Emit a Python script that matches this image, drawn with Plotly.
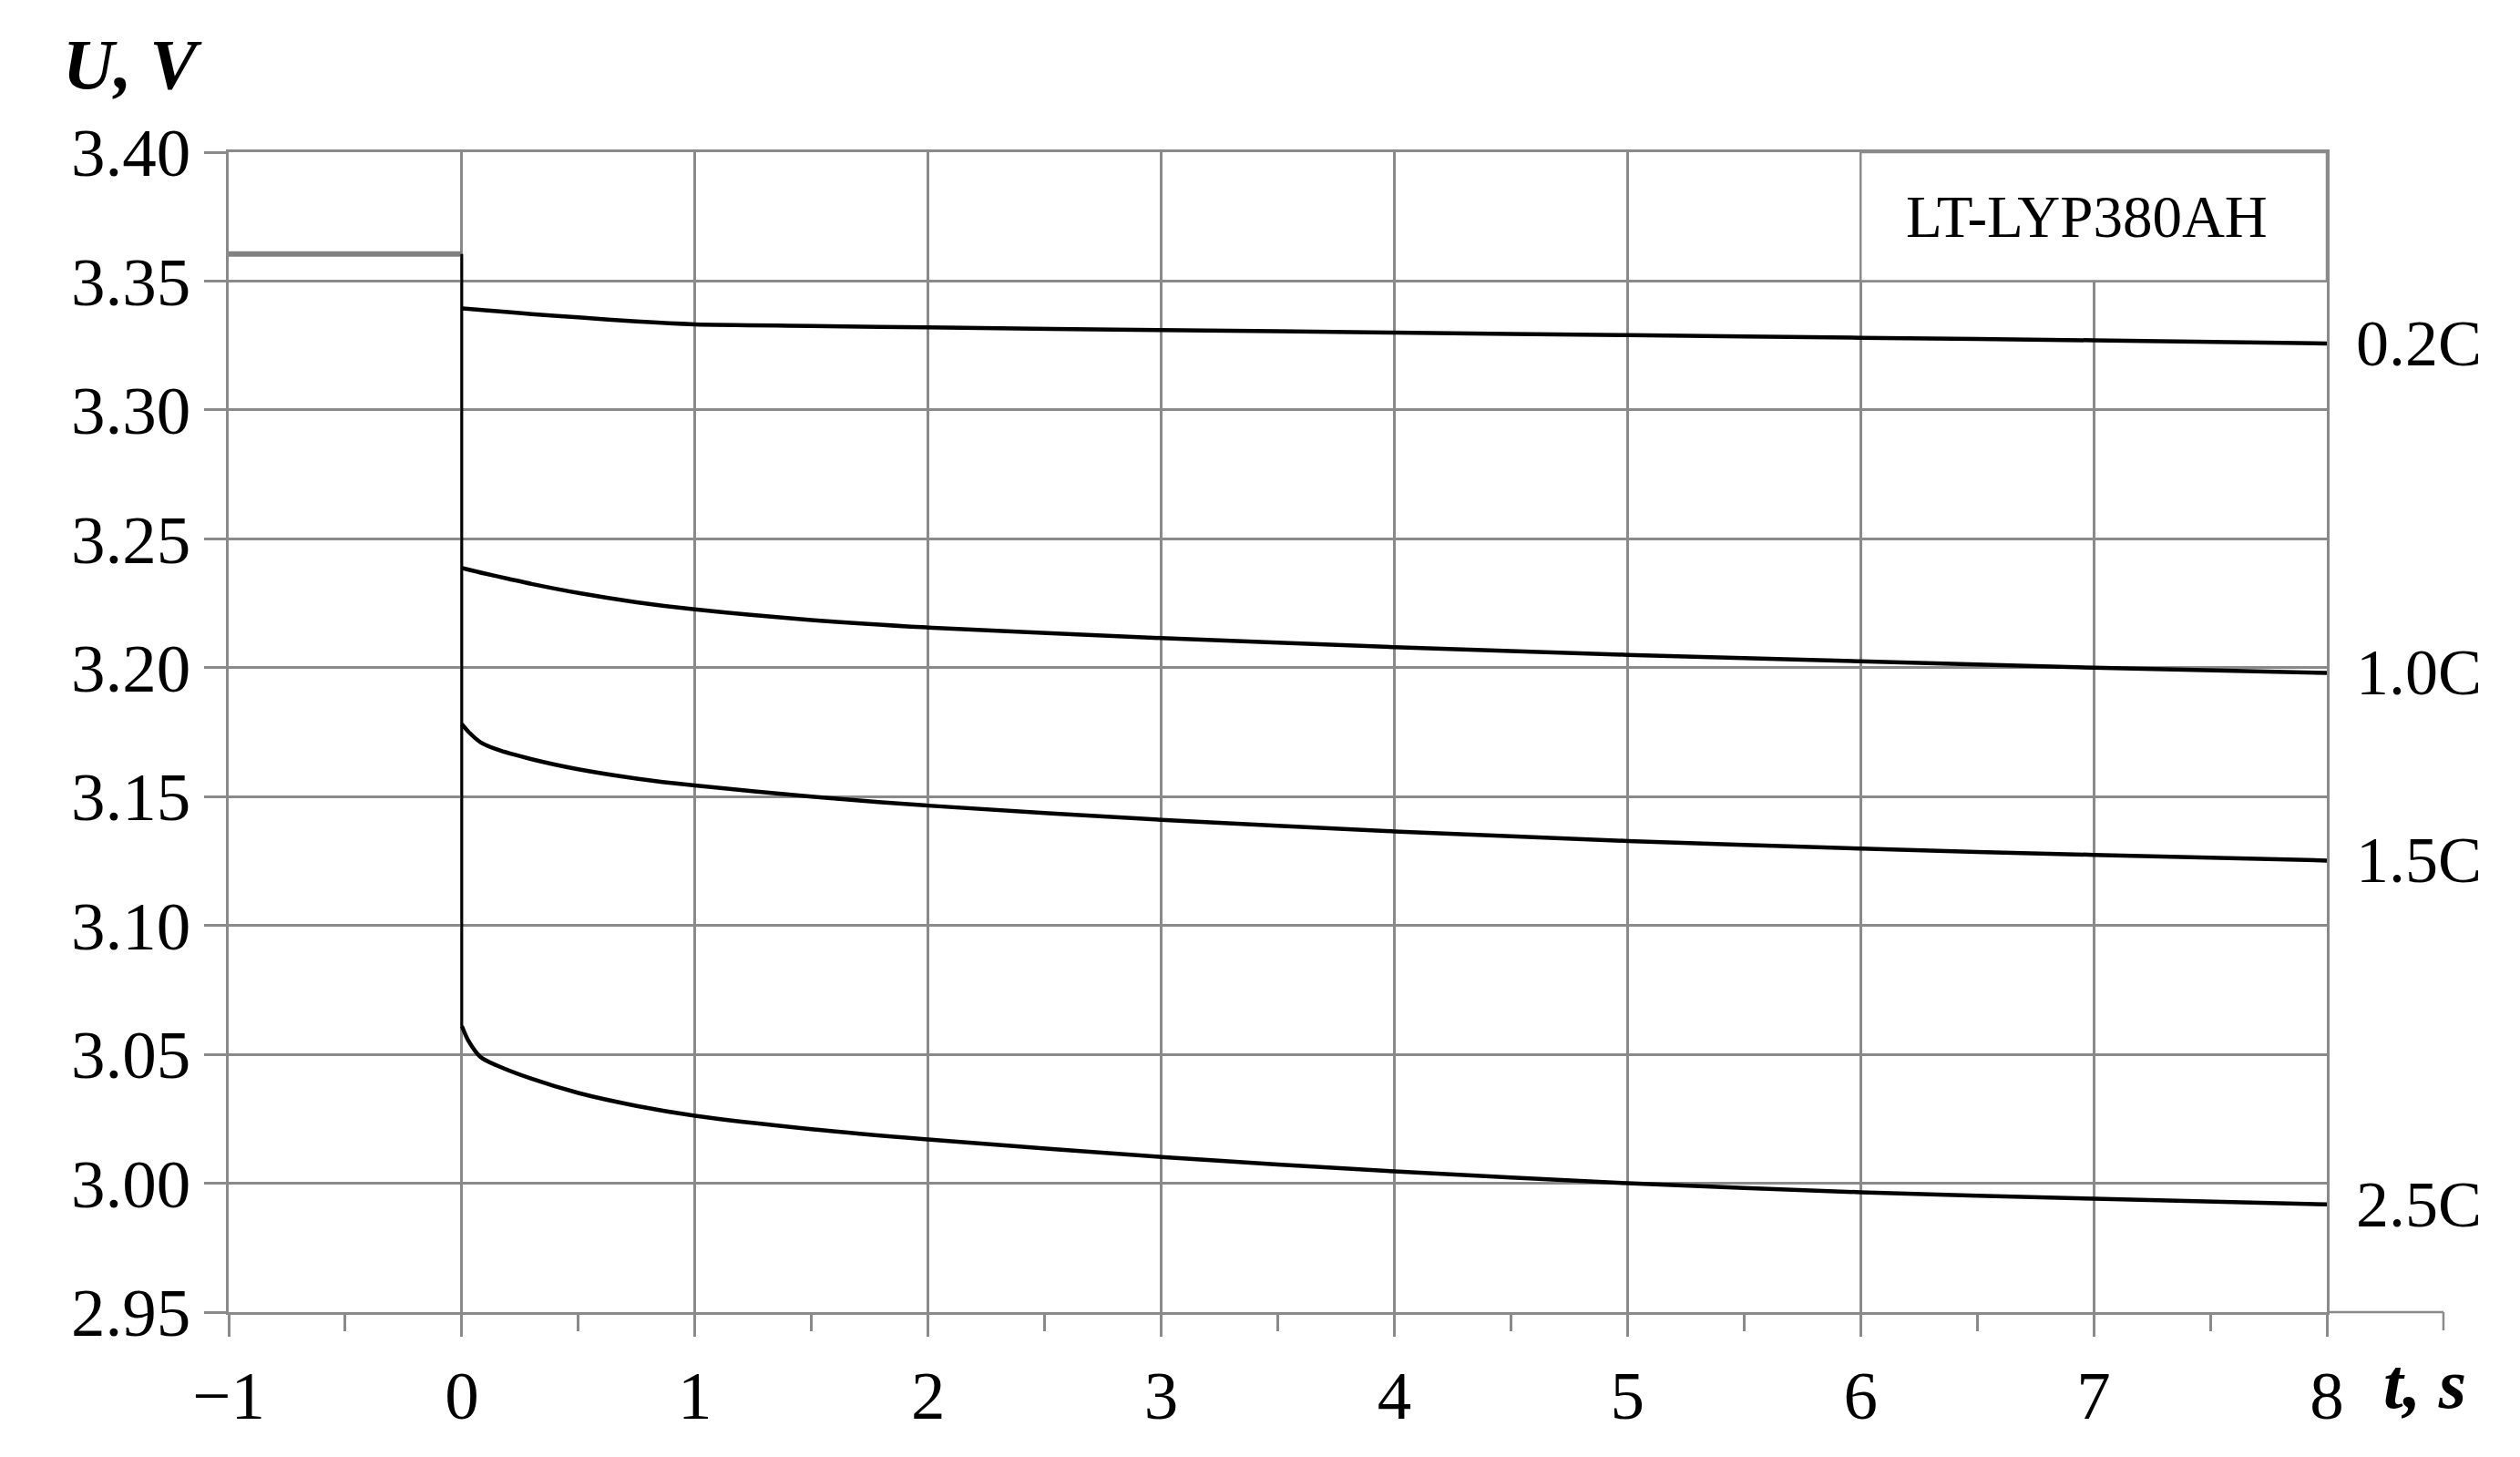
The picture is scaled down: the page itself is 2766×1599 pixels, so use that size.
import plotly.graph_objects as go

# time, s
t_pre = [-1, 0]
u_pre = [3.3605, 3.3605]

# voltage drop at the moment the load is switched on
t_drop = [0, 0]
u_drop = [3.3605, 3.0610]

t_02 = [0, 0.1, 0.2, 0.3, 0.5, 0.75, 1, 1.5, 2, 3, 4, 5, 6, 7, 8]
u_02 = [3.3394, 3.3387, 3.3380, 3.3372, 3.3359, 3.3343, 3.3332, 3.3326, 3.3320,
        3.3310, 3.3300, 3.3290, 3.3280, 3.3270, 3.3258]

t_10 = [0, 0.1, 0.2, 0.3, 0.5, 0.75, 1, 1.5, 2, 3, 4, 5, 6, 7, 8]
u_10 = [3.2387, 3.2365, 3.2345, 3.2325, 3.2290, 3.2254, 3.2226, 3.2185, 3.2156,
        3.2115, 3.2080, 3.2050, 3.2025, 3.2000, 3.1980]

t_15 = [0, 0.03, 0.08, 0.15, 0.3, 0.5, 0.75, 1, 1.5, 2, 3, 4, 5, 6, 7, 8]
u_15 = [3.1781, 3.1750, 3.1711, 3.1683, 3.1645, 3.1606, 3.1570, 3.1543, 3.1500,
        3.1465, 3.1410, 3.1365, 3.1328, 3.1298, 3.1274, 3.1252]

t_25 = [0, 0.03, 0.08, 0.15, 0.3, 0.5, 0.75, 1, 1.5, 2, 3, 4, 5, 6, 7, 8]
u_25 = [3.0610, 3.0550, 3.0490, 3.0457, 3.0405, 3.0350, 3.0300, 3.0262,
        3.0210, 3.0170, 3.0102, 3.0046, 3.0000, 2.9965, 2.9940, 2.9918]

curve_labels = ["0.2C", "1.0C", "1.5C", "2.5C"]
curves = [(t_02, u_02), (t_10, u_10), (t_15, u_15), (t_25, u_25)]

y_ticks = [2.95, 3.00, 3.05, 3.10, 3.15, 3.20, 3.25, 3.30, 3.35, 3.40]
x_ticks = [-1, 0, 1, 2, 3, 4, 5, 6, 7, 8]

FONT = "Liberation Serif"
GRID = "#8a8a8a"

fig = go.Figure()
fig.add_trace(go.Scatter(x=t_pre, y=u_pre, mode="lines",
                         line=dict(color="#808080", width=6), showlegend=False))
fig.add_trace(go.Scatter(x=t_drop, y=u_drop, mode="lines",
                         line=dict(color="black", width=3), showlegend=False))
for (tt, uu) in curves:
    fig.add_trace(go.Scatter(x=tt, y=uu, mode="lines",
                             line=dict(color="black", width=4.5, shape="spline",
                                       smoothing=0.8),
                             showlegend=False))

# labels at the right end of each curve
for name, (tt, uu) in zip(curve_labels, curves):
    fig.add_annotation(xref="paper", x=1, xshift=30, xanchor="left",
                       yref="y", y=uu[-1], yanchor="middle", text=name,
                       showarrow=False, font=dict(family=FONT, size=72, color="black"))

# boxed cell label
fig.add_shape(type="rect", x0=6, x1=8, y0=3.35, y1=3.40, xref="x", yref="y",
              fillcolor="white", line=dict(color=GRID, width=2.5), layer="above")
fig.add_annotation(x=7, y=3.375, text="LT-LYP380AH", showarrow=False, xshift=-8,
                   font=dict(family=FONT, size=65, color="black"))

# axis titles
fig.add_annotation(xref="paper", yref="paper", x=-0.08, y=1.076, xanchor="left",
                   yanchor="middle", text="<b><i>U, V</i></b>", showarrow=False,
                   font=dict(family=FONT, size=78, color="black"))
fig.add_annotation(xref="paper", yref="paper", x=1.026, y=-0.062, xanchor="left",
                   yanchor="middle", text="<b><i>t, s</i></b>", showarrow=False,
                   font=dict(family=FONT, size=78, color="black"))

# x axis line goes on past 8 to 8.5
fig.add_shape(type="line", xref="x domain", yref="y domain", x0=1, x1=9.5 / 9,
              y0=0, y1=0, line=dict(color=GRID, width=2.5))
fig.add_shape(type="line", xref="x domain", yref="y domain", x0=9.5 / 9, x1=9.5 / 9,
              y0=0, y1=-20 / 1273, line=dict(color=GRID, width=2.5))

fig.update_layout(
    width=2766, height=1599,
    margin=dict(l=243, r=220, t=159, b=167),
    plot_bgcolor="white", paper_bgcolor="white",
    font=dict(family=FONT, size=75, color="black"),
)
fig.update_xaxes(range=[-1, 8], tickvals=x_ticks, showgrid=True, gridcolor=GRID,
                 gridwidth=2.5, showline=True, linecolor=GRID, linewidth=2.5,
                 mirror=True, ticks="outside", ticklen=24, tickwidth=2.5,
                 tickcolor=GRID, zeroline=False,
                 minor=dict(dtick=0.5, ticks="outside", ticklen=18, tickwidth=2.5,
                            tickcolor=GRID, showgrid=False))
fig.update_yaxes(range=[2.95, 3.40], tickvals=y_ticks, tickformat=".2f",
                 showgrid=True, gridcolor=GRID, gridwidth=2.5, showline=True,
                 linecolor=GRID, linewidth=2.5, mirror=True, ticks="outside",
                 ticklen=24, tickwidth=2.5, tickcolor=GRID, zeroline=False)

fig.write_html("out.html")
